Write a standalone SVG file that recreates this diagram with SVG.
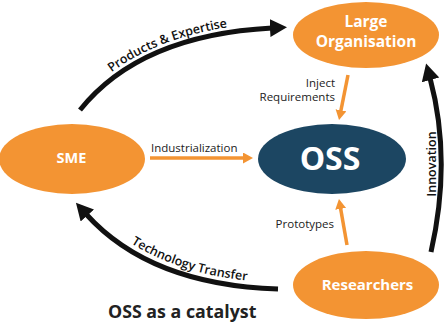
<svg xmlns="http://www.w3.org/2000/svg" width="446" height="324" viewBox="0 0 446 324">
  <style>
    .node { fill: #f39433; }
    .oss { fill: #1c4662; }
    .ntext { font-family: "Open Sans", "Noto Sans", sans-serif; font-weight: 700; fill: #ffffff; text-anchor: middle; }
    .lbl { font-family: "Open Sans", "Noto Sans", sans-serif; font-size: 11.5px; fill: #222222; }
    .arc { fill: none; stroke: #111111; stroke-width: 5; }
    .arclbl { font-family: "Open Sans", "Noto Sans", sans-serif; font-size: 12.5px; font-weight: 600; fill: #111111; }
    .oarr { fill: none; stroke: #f39433; stroke-width: 3.5; }
  </style>
  <defs>
    <marker id="bh" markerUnits="userSpaceOnUse" markerWidth="20" markerHeight="20" refX="2" refY="9" orient="auto">
      <path d="M0,0 L17,9 L0,18 z" fill="#111111"/>
    </marker>
    <marker id="oh" markerUnits="userSpaceOnUse" markerWidth="12" markerHeight="12" refX="1" refY="5.5" orient="auto">
      <path d="M0,0 L10,5.5 L0,11 z" fill="#f39433"/>
    </marker>
    <path id="tp1" d="M78,105 Q138,30 270,23"/>
    <path id="tp2" d="M89,208 Q153,279 281,283"/>
  </defs>

  <g id="connectors">
    <path class="arc" d="M80,110 Q140,35 272,28" marker-end="url(#bh)"/>
    <path class="arc" d="M278,289 Q150,285 86,214" marker-end="url(#bh)"/>
    <path class="arc" d="M431,252 Q452,160 430,78" marker-end="url(#bh)"/>
    <path class="oarr" d="M150,158 L244,158" marker-end="url(#oh)"/>
    <path class="oarr" d="M348,75 L340.8,111.2" marker-end="url(#oh)"/>
    <path class="oarr" d="M347,245 L340.5,207.9" marker-end="url(#oh)"/>
    <text class="arclbl"><textPath href="#tp1" startOffset="51%" text-anchor="middle">Products &amp; Expertise</textPath></text>
    <text class="arclbl"><textPath href="#tp2" startOffset="55%" text-anchor="middle">Technology Transfer</textPath></text>
    <text class="arclbl" transform="translate(436,164) rotate(-90)" text-anchor="middle">Innovation</text>
    <text class="lbl" x="151" y="152">Industrialization</text>
    <text class="lbl" x="335" y="87" text-anchor="end">Inject</text>
    <text class="lbl" x="335" y="101" text-anchor="end">Requirements</text>
    <text class="lbl" x="334" y="228" text-anchor="end">Prototypes</text>
  </g>

  <g id="large-organisation">
    <ellipse class="node" cx="366" cy="35" rx="73" ry="33"/>
    <text class="ntext" x="366" y="27" font-size="15.5">Large</text>
    <text class="ntext" x="366" y="47" font-size="15.5">Organisation</text>
  </g>

  <g id="sme">
    <ellipse class="node" cx="72" cy="159" rx="73" ry="35"/>
    <text class="ntext" x="71.5" y="163" font-size="14.5">SME</text>
  </g>

  <g id="oss">
    <ellipse class="oss" cx="332" cy="159" rx="74" ry="35"/>
    <text class="ntext" x="330" y="170" font-size="32">OSS</text>
  </g>

  <g id="researchers">
    <ellipse class="node" cx="366" cy="285" rx="73" ry="34"/>
    <text class="ntext" x="367.5" y="290" font-size="15">Researchers</text>
  </g>

  <text x="108" y="318" font-family="'Open Sans', 'Noto Sans', sans-serif" font-size="17.8" font-weight="700" fill="#222222">OSS as a catalyst</text>
</svg>
